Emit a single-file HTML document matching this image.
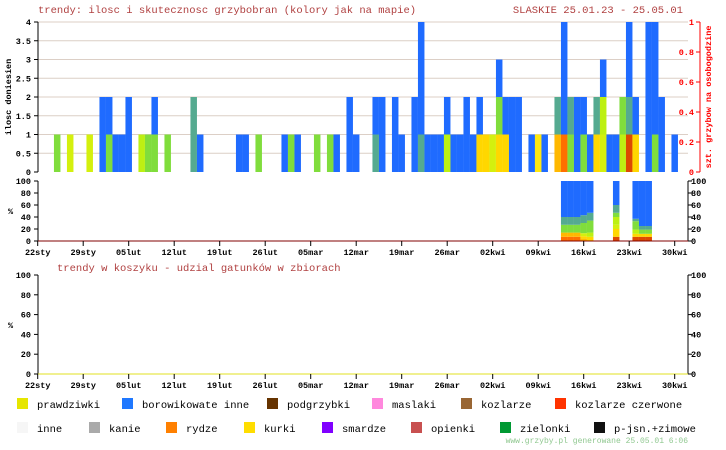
<!DOCTYPE html>
<html><head><meta charset="utf-8"><style>
body{margin:0;background:#fff;width:726px;height:450px;overflow:hidden}
svg{display:block}
text{font-family:"Liberation Mono","DejaVu Sans Mono",monospace}
.t{font-size:8.5px;font-weight:bold;fill:#000}
.ti{font-size:10.5px;fill:#b04040}
.lg{font-size:10.5px;fill:#000}
</style></head><body>
<svg id="c" width="726" height="450" viewBox="0 0 726 450" xmlns="http://www.w3.org/2000/svg">
<text class="ti" x="38" y="13">trendy: ilosc i skutecznosc grzybobran (kolory jak na mapie)</text>
<text class="ti" x="683" y="13" text-anchor="end">SLASKIE 25.01.23 - 25.05.01</text>
<text class="t" transform="translate(11,97) rotate(-90)" text-anchor="middle">ilosc doniesien</text>
<text class="t" transform="translate(711,97) rotate(-90)" text-anchor="middle" fill="#f00" style="fill:#f00">szt. grzybow na osobogodzine</text>
<text class="t" x="8" y="214">%</text>
<text class="ti" x="57" y="271">trendy w koszyku - udzial gatunków w zbiorach</text>
<text class="t" x="8" y="328">%</text>
<g id="grid"></g><g id="bars"></g><g id="pct"></g><g id="axes"></g><g id="legend"></g>
<text x="688" y="443" text-anchor="end" style="font-size:8px;fill:#90c890">www.grzyby.pl generowane 25.05.01  6:06</text>
</svg>
<script>
const xTickLabels=["22sty","29sty","05lut","12lut","19lut","26lut","05mar","12mar","19mar","26mar","02kwi","09kwi","16kwi","23kwi","30kwi"];
const yTopTicks=[0,0.5,1,1.5,2,2.5,3,3.5,4];
const yRightTicks=[0,0.2,0.4,0.6,0.8,1];
const pctTicks=[0,20,40,60,80,100];
const barDays=[3,5,8,10,11,12,13,14,16,17,18,20,24,25,31,32,34,38,39,40,43,45,46,48,49,52,53,55,56,58,59,60,61,62,63,64,65,66,67,68,69,70,71,72,73,74,76,77,78,80,81,82,83,84,85,86,87,88,89,90,91,92,94,95,96,98];
const barStacks=["G","Y","Y","BB","GB","B","B","BB","L","G","GB","G","TT","B","B","B","G","B","G","B","G","G","B","BB","B","TB","BB","BB","B","BB","TBBB","B","B","B","LB","B","B","BB","B","KB","K","Y","KGB","KB","BB","BB","B","E","B","OT","RBBB","GT","BB","GB","B","KT","YLB","B","B","LG","DTBB","KB","BBBB","GBBB","BB","B"];
const pctDays=[81,82,83,84,85,89,92,93,94];
const pctStacks=[
[["R",7],["O",7],["G",13],["T",13],["B",60]],
[["R",7],["O",7],["G",13],["T",13],["B",60]],
[["R",7],["O",7],["G",13],["T",13],["B",60]],
[["O",4],["K",4],["Y",5],["G",17],["T",13],["B",57]],
[["K",7],["L",7],["G",20],["T",13],["B",53]],
[["D",7],["K",13],["Y",7],["L",13],["G",7],["T",13],["B",40]],
[["D",7],["K",5],["L",7],["G",14],["T",4],["B",63]],
[["D",7],["K",5],["G",7],["T",6],["B",75]],
[["D",7],["K",5],["G",7],["T",6],["B",75]]];
const legendNames=["prawdziwki","borowikowate inne","podgrzybki","maslaki","kozlarze","kozlarze czerwone","inne","kanie","rydze","kurki","smardze","opienki","zielonki","p-jsn.+zimowe"];
const legendColors=["#e6e600","#1f78ff","#663300","#ff88dd","#996633","#ff3300","#f6f6f6","#aaaaaa","#ff8000","#ffdd00","#8000ff","#c85050","#009933","#111111"];
const legendX=[17,122,267,372,461,555,17,89,166,244,322,411,500,594];
const COL={B:"#1f6bff",G:"#80dd3c",Y:"#d4f00e",L:"#bdf012",T:"#55aa90",K:"#ffd700",E:"#ffe810",O:"#ffb800",R:"#ff7000",D:"#dd4a00"};
const NS="http://www.w3.org/2000/svg";
const X0=37.7,DX=6.5,XR=688;
const xs=d=>X0+DX*d;
const yTop=v=>172-v*37.5;
const yPct=p=>241-p*0.6;
const yBask=p=>374-p*0.99;
function mk(par,tag,at){const e=document.createElementNS(NS,tag);for(const k in at)e.setAttribute(k,at[k]);document.getElementById(par).appendChild(e);return e;}
// grid
yTopTicks.forEach(v=>{if(v>0){const l=mk('grid','line',{x1:38,x2:XR,y1:yTop(v),y2:yTop(v),stroke:'#dccfc6','stroke-width':1});

}});
// bars
barDays.forEach((d,i)=>{const s=barStacks[i];for(let j=0;j<s.length;j++){const r=mk('bars','rect',{x:xs(d)-3.25,y:yTop(j+1),width:DX,height:37.5,fill:COL[s[j]]});

}});
// pct
pctDays.forEach((d,i)=>{let acc=0;pctStacks[i].forEach(([c,v])=>{const r=mk('pct','rect',{x:xs(d)-3.25,y:yPct(acc+v),width:DX,height:v*0.6,fill:COL[c]});

acc+=v;});});
// axes
function line(a,n,col){const l=mk('axes','line',Object.assign({stroke:col||'#000','stroke-width':1},a));return l;}
function txt(x,y,s,anchor,n,fill){const t=mk('axes','text',{x:x,y:y,'text-anchor':anchor,class:'t'});if(fill)t.setAttribute('style','fill:'+fill);t.textContent=s;}
line({x1:38,x2:38,y1:22,y2:172},'y-axis-left');
line({x1:700,x2:700,y1:22,y2:172},'y-axis-right','#f00');
yTopTicks.forEach(v=>{line({x1:34,x2:38,y1:yTop(v),y2:yTop(v)},'y-tick');txt(31,yTop(v)+3,String(v),'end','y-tick-label');});
yRightTicks.forEach(v=>{line({x1:696,x2:700,y1:yTop(v*4),y2:yTop(v*4)},'right-tick','#f00');txt(694,yTop(v*4)+3,String(v),'end','right-tick-label','#f00');});
line({x1:38,x2:38,y1:181,y2:241},'pct-axis-left');
line({x1:XR,x2:XR,y1:181,y2:241},'pct-axis-right');
pctTicks.forEach(p=>{line({x1:34,x2:38,y1:yPct(p),y2:yPct(p)},'pct-tick');txt(31,yPct(p)+3,String(p),'end','pct-tick-label');
line({x1:XR,x2:XR+4,y1:yPct(p),y2:yPct(p)},'pct-tick-right');txt(XR+3,yPct(p)+3,String(p),'start','pct-tick-label-right');});
line({x1:38,x2:XR,y1:241,y2:241},'x-axis','#800000');
xTickLabels.forEach((s,i)=>{const x=xs(i*7);line({x1:x,x2:x,y1:241,y2:246},'x-tick');txt(x,255,s,'middle','x-tick-label');});
// basket chart
line({x1:38,x2:38,y1:275,y2:374},'basket-axis-left');
line({x1:XR,x2:XR,y1:275,y2:374},'basket-axis-right');
pctTicks.forEach(p=>{line({x1:34,x2:38,y1:yBask(p),y2:yBask(p)},'basket-tick');txt(31,yBask(p)+3,String(p),'end','basket-tick-label');
line({x1:XR,x2:XR+4,y1:yBask(p),y2:yBask(p)},'basket-tick-right');txt(XR+3,yBask(p)+3,String(p),'start','basket-tick-label-right');});
line({x1:38,x2:XR,y1:374,y2:374},'basket-baseline','#e0e020');
xTickLabels.forEach((s,i)=>{const x=xs(i*7);line({x1:x,x2:x,y1:374,y2:379},'basket-x-tick');txt(x,388,s,'middle','basket-x-tick-label');});
// legend
legendNames.forEach((n,i)=>{const row=i<6?0:1;const y=row?422:398;
const r=mk('legend','rect',{x:legendX[i],y:y,width:11,height:11,fill:legendColors[i]});


const t=mk('legend','text',{x:legendX[i]+20,y:y+10,class:'lg'});t.textContent=n;

});
</script>
</body></html>
